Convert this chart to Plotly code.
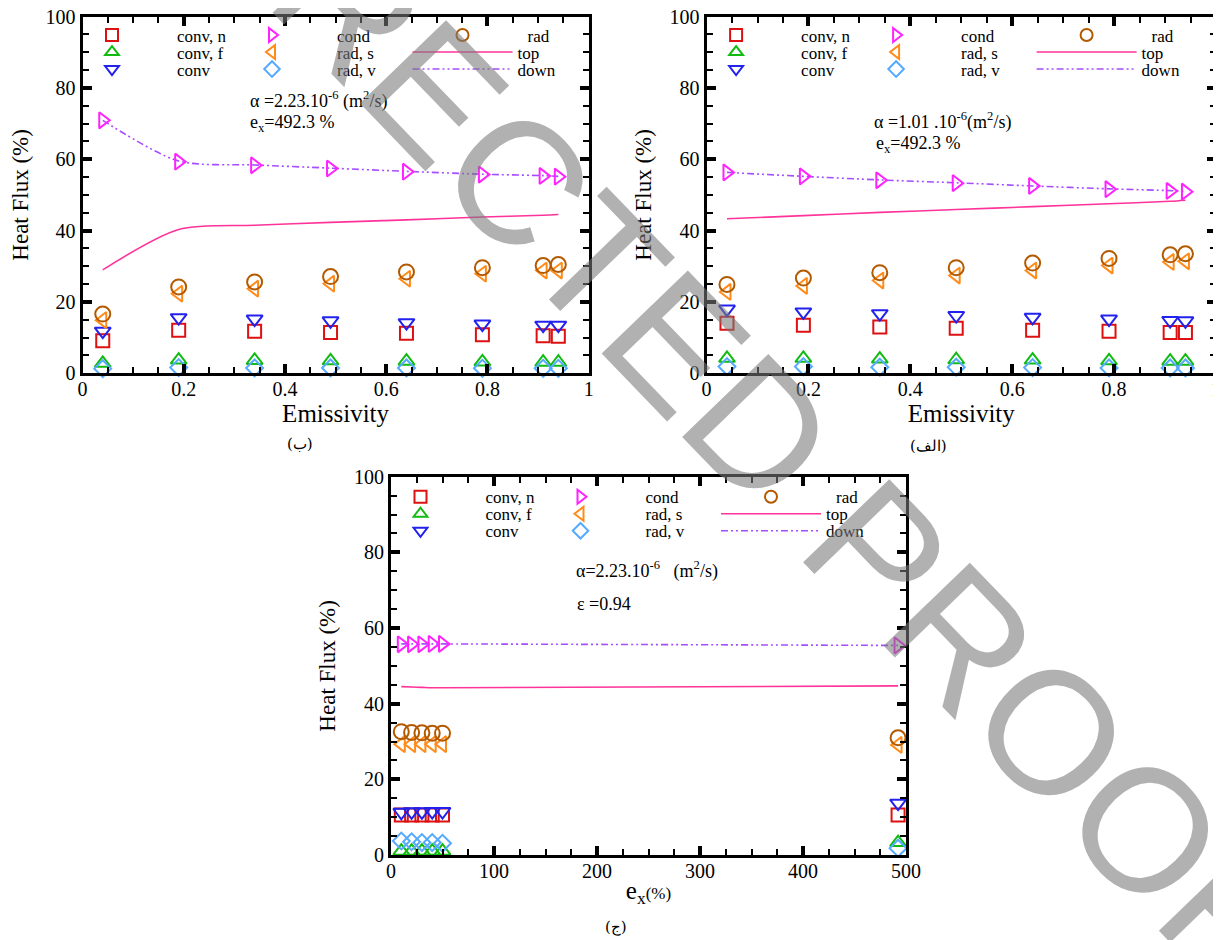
import plotly.graph_objects as go

W, H = 1221, 940
OFF = 8  # page body margin of the html file, compensated below

# ---------------- data ----------------
emissivity = [0.04, 0.19, 0.34, 0.49, 0.64, 0.79, 0.91, 0.94]
ex_values = [10, 20, 30, 40, 50, 492.3]

# panel (ب)  alpha = 2.23e-6, ex = 492.3 %
b_conv_n = [9.1, 12.1, 11.8, 11.4, 11.2, 10.8, 10.5, 10.4]
b_conv_f = [2.8, 3.7, 3.6, 3.5, 3.4, 3.2, 3.1, 3.1]
b_conv = [11.8, 15.6, 15.2, 14.7, 14.2, 13.8, 13.5, 13.5]
b_cond = [70.9, 59.3, 58.3, 57.4, 56.5, 55.7, 55.3, 55.1]
b_rad_s = [14.9, 22.3, 23.7, 25.1, 26.5, 27.9, 28.8, 28.8]
b_rad_v = [1.3, 1.6, 1.5, 1.5, 1.5, 1.4, 1.4, 1.4]
b_rad = [16.6, 24.2, 25.6, 27.1, 28.4, 29.6, 30.2, 30.5]
b_top = [29.0, 40.3, 41.5, 42.3, 43.0, 43.8, 44.3, 44.5]
b_down = [70.9, 59.5, 58.4, 57.5, 56.6, 55.8, 55.4, 55.2]

# panel (الف)  alpha = 1.01e-6, ex = 492.3 %
a_conv_n = [14.0, 13.5, 13.0, 12.6, 12.1, 11.8, 11.4, 11.4]
a_conv_f = [4.2, 4.2, 4.0, 3.8, 3.7, 3.5, 3.4, 3.4]
a_conv = [18.0, 17.2, 16.7, 16.2, 15.7, 15.2, 14.8, 14.7]
a_cond = [56.3, 55.2, 54.1, 53.3, 52.5, 51.6, 51.1, 50.9]
a_rad_s = [22.8, 24.5, 26.0, 27.4, 28.8, 30.2, 31.2, 31.4]
a_rad_v = [1.9, 1.9, 1.7, 1.7, 1.6, 1.5, 1.5, 1.5]
a_rad = [24.9, 26.7, 28.2, 29.6, 30.9, 32.2, 33.2, 33.5]
a_top = [43.3, 44.2, 45.1, 45.9, 46.7, 47.5, 48.2, 48.5]
a_down = [56.3, 55.2, 54.2, 53.4, 52.5, 51.7, 51.2, 51.0]

# panel (ج)  alpha = 2.23e-6, emissivity = 0.94
c_conv_n = [10.6, 10.6, 10.6, 10.6, 10.6, 10.6]
c_conv_f = [1.0, 1.0, 1.0, 1.0, 1.0, 3.3]
c_conv = [11.3, 11.4, 11.4, 11.5, 11.5, 13.7]
c_cond = [55.7, 55.7, 55.7, 55.8, 55.8, 55.4]
c_rad_s = [29.3, 29.3, 29.3, 29.3, 29.3, 29.1]
c_rad_v = [3.7, 3.5, 3.3, 3.3, 3.1, 1.8]
c_rad = [32.6, 32.4, 32.3, 32.2, 32.2, 31.0]
c_top = [44.5, 44.4, 44.3, 44.2, 44.2, 44.7]
c_down = [55.8, 55.8, 55.8, 55.8, 55.8, 55.4]

series_names = ["conv, n", "conv, f", "conv", "cond", "rad, s", "rad, v", "rad", "top", "down"]

# ---------------- styles ----------------
SERIF = "Liberation Serif"
styles = {
    "conv, n": dict(mode="markers", marker=dict(symbol="square-open", color="#dd1111", size=13, line=dict(width=2))),
    "conv, f": dict(mode="markers", marker=dict(symbol="triangle-up-open", color="#11bb11", size=14, line=dict(width=2))),
    "conv": dict(mode="markers", marker=dict(symbol="triangle-down-open", color="#2222ee", size=14, line=dict(width=2))),
    "cond": dict(mode="markers", marker=dict(symbol="triangle-right-open", color="#ff22ff", size=14, line=dict(width=2))),
    "rad, s": dict(mode="markers", marker=dict(symbol="triangle-left-open", color="#ff8c1a", size=14, line=dict(width=2))),
    "rad, v": dict(mode="markers", marker=dict(symbol="diamond-open", color="#55aaff", size=13, line=dict(width=2))),
    "rad": dict(mode="markers", marker=dict(symbol="circle-open", color="#b35900", size=15, line=dict(width=2))),
    "top": dict(mode="lines", line=dict(color="#ff3399", width=1.6, shape="spline", smoothing=0.8)),
    "down": dict(mode="lines", line=dict(color="#a64dff", width=1.6, dash="7px,3px,2px,3px,2px,3px",
                                         shape="spline", smoothing=0.8)),
}
draw_order = ["top", "down", "conv, n", "conv, f", "conv", "cond", "rad, s", "rad, v", "rad"]

panels = [
    dict(key="b", x=emissivity,
         data=dict(zip(series_names, [b_conv_n, b_conv_f, b_conv, b_cond, b_rad_s, b_rad_v, b_rad, b_top, b_down])),
         box=(82.5, 588.7, 16.5, 373.3), xrange=[0, 1], dtick=0.2, minor=0.05,
         xtitle="Emissivity", caption="(ب)",
         notes=["α =2.23.10<sup>-6</sup> (m<sup>2</sup>/s)", "e<sub>x</sub>=492.3 %"],
         note_pos=[(248, 100), (248, 124)]),
    dict(key="a", x=emissivity,
         data=dict(zip(series_names, [a_conv_n, a_conv_f, a_conv, a_cond, a_rad_s, a_rad_v, a_rad, a_top, a_down])),
         box=(706.6, 1216, 16.5, 373.3), xrange=[0, 1], dtick=0.2, minor=0.05,
         xtitle="Emissivity", caption="(الف)",
         notes=["α =1.01 .10<sup>-6</sup>(m<sup>2</sup>/s)", "e<sub>x</sub>=492.3 %"],
         note_pos=[(872, 121), (874, 144)]),
    dict(key="c", x=ex_values,
         data=dict(zip(series_names, [c_conv_n, c_conv_f, c_conv, c_cond, c_rad_s, c_rad_v, c_rad, c_top, c_down])),
         box=(391, 906, 476.7, 855), xrange=[0, 500], dtick=100, minor=25,
         xtitle="e<sub>x</sub><span style='font-size:17px'>(%)</span>", caption="(ج)",
         notes=["α=2.23.10<sup>-6</sup>   (m<sup>2</sup>/s)", "ε =0.94"],
         note_pos=[(574, 570), (575, 604)]),
]

caption_pos = {"b": (300, 444), "a": (928, 446), "c": (616, 927)}

# legend grid (offsets from panel frame, px)
legend_cols = [["conv, n", "conv, f", "conv"], ["cond", "rad, s", "rad, v"], ["rad", "top", "down"]]
col_dx = [29.5, 189.5, 380]
row_dy = [19, 36, 53]

fig = go.Figure()
layout = dict(width=W, height=H, margin=dict(l=0, r=0, t=0, b=0, autoexpand=False),
              paper_bgcolor="white", plot_bgcolor="white", showlegend=True,
              font=dict(family=SERIF, color="black"))
annotations = []
legend_idx = 0


def px_x(v):
    return (v - OFF) / W


def px_y(v):
    return 1 - (v - OFF) / H


for i, p in enumerate(panels):
    ax = "" if i == 0 else str(i + 1)
    x0, x1, y0, y1 = p["box"]
    axis_common = dict(showline=True, linewidth=3, linecolor="black", mirror="allticks",
                       ticks="inside", ticklen=9, tickwidth=3.5, tickcolor="black",
                       showgrid=False, zeroline=False, ticklabeloverflow="allow",
                       tickfont=dict(family=SERIF, size=20, color="black"))
    layout["xaxis" + ax] = dict(axis_common, domain=[px_x(x0), px_x(x1)], range=p["xrange"],
                                dtick=p["dtick"], tick0=0, anchor="y" + ax, ticklabelstandoff=-4,
                                minor=dict(ticks="inside", dtick=p["minor"], ticklen=6, tickwidth=1.5,
                                           tickcolor="black", showgrid=False),
                                title=dict(text=p["xtitle"], font=dict(family=SERIF, size=25), standoff=1))
    layout["yaxis" + ax] = dict(axis_common, domain=[px_y(y1), px_y(y0)], range=[0, 100],
                                dtick=20, tick0=0, anchor="x" + ax,
                                minor=dict(ticks="inside", dtick=5, ticklen=6, tickwidth=1.5,
                                           tickcolor="black", showgrid=False),
                                title=dict(text="Heat Flux (%)", font=dict(family=SERIF, size=23), standoff=12))

    legend_of = {}
    for c, col in enumerate(legend_cols):
        for r, name in enumerate(col):
            legend_idx += 1
            lid = "legend" if legend_idx == 1 else "legend%d" % legend_idx
            legend_of[name] = lid
            cx_sym = x0 + col_dx[c]
            my = y0 + row_dy[r] + (1.5 if p["key"] == "c" else 0)
            is_line = styles[name]["mode"] == "lines"
            iw = 100 if is_line else 120
            layout[lid] = dict(x=px_x(cx_sym - (iw / 2 + 5)), y=px_y(my), xanchor="left", yanchor="middle",
                               bgcolor="rgba(0,0,0,0)", borderwidth=0, itemwidth=iw,
                               itemsizing="trace" if is_line else "constant",
                               font=dict(family=SERIF, size=17, color="black"))

    for name in draw_order:
        st = styles[name]
        fig.add_trace(go.Scatter(x=p["x"], y=p["data"][name], name=name,
                                 xaxis="x" + ax, yaxis="y" + ax,
                                 legend=legend_of[name], cliponaxis=False,
                                 **st))

    for txt, (tx, ty) in zip(p["notes"], p["note_pos"]):
        annotations.append(dict(text=txt, x=px_x(tx), y=px_y(ty), xref="paper", yref="paper",
                                xanchor="left", yanchor="middle", showarrow=False,
                                font=dict(family=SERIF, size=18, color="black")))
    cx, cy = caption_pos[p["key"]]
    annotations.append(dict(text=p["caption"], x=px_x(cx), y=px_y(cy), xref="paper", yref="paper",
                            xanchor="center", yanchor="middle", showarrow=False,
                            font=dict(family="DejaVu Serif", size=15, color="black")))

# watermark
annotations.append(dict(text="CORRECTED PROOF", x=px_x(652), y=px_y(318), xref="paper", yref="paper",
                        xanchor="center", yanchor="middle", showarrow=False, textangle=46,
                        font=dict(family="Liberation Sans", size=174,
                                  color="rgba(120,120,120,0.58)")))

layout["annotations"] = annotations
fig.update_layout(**layout)
fig.write_html("out.html")
